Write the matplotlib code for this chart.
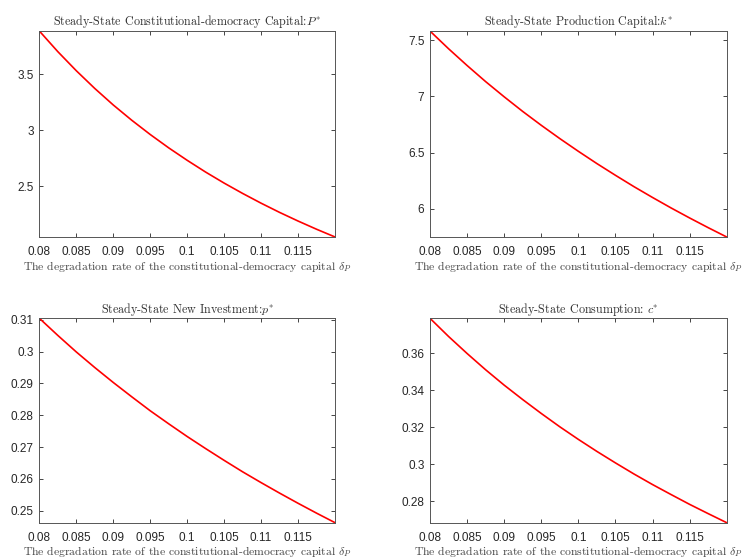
import numpy as np
import matplotlib
matplotlib.use("Agg")
import matplotlib.pyplot as plt
from matplotlib.ticker import FuncFormatter

plt.rcParams['mathtext.fontset'] = 'cm'
plt.rcParams['font.family'] = ['Liberation Sans', 'DejaVu Sans']

# degradation rate of constitutional-democracy capital
delta = [0.0800, 0.0825, 0.0850, 0.0875, 0.0900, 0.0925, 0.0950, 0.0975, 0.1000,
         0.1025, 0.1050, 0.1075, 0.1100, 0.1125, 0.1150, 0.1175, 0.1200]

P_star = [3.885, 3.701, 3.531, 3.373, 3.226, 3.090, 2.963, 2.844, 2.733,
          2.628, 2.530, 2.438, 2.351, 2.269, 2.192, 2.119, 2.050]
k_star = [7.580, 7.423, 7.274, 7.131, 6.996, 6.866, 6.743, 6.625, 6.512,
          6.403, 6.299, 6.198, 6.102, 6.009, 5.920, 5.834, 5.751]
p_star = [0.3105, 0.3051, 0.2999, 0.2950, 0.2903, 0.2858, 0.2814, 0.2773, 0.2733,
          0.2695, 0.2658, 0.2622, 0.2588, 0.2555, 0.2523, 0.2492, 0.2462]
c_star = [0.3789, 0.3691, 0.3599, 0.3511, 0.3428, 0.3350, 0.3275, 0.3203, 0.3135,
          0.3070, 0.3008, 0.2948, 0.2891, 0.2837, 0.2784, 0.2734, 0.2685]

x_ticks = [0.08, 0.085, 0.09, 0.095, 0.1, 0.105, 0.11, 0.115]
x_tick_labels = ['0.08', '0.085', '0.09', '0.095', '0.1', '0.105', '0.11', '0.115']

titles = [r'Steady-State Constitutional-democracy Capital:$P^{*}$',
          r'Steady-State Production Capital:$k^{*}$',
          r'Steady-State New Investment:$p^{*}$',
          r'Steady-State Consumption: $c^{*}$']
y_ticks = [[2.5, 3, 3.5],
           [6, 6.5, 7, 7.5],
           [0.25, 0.26, 0.27, 0.28, 0.29, 0.3, 0.31],
           [0.28, 0.3, 0.32, 0.34, 0.36]]
series = [P_star, k_star, p_star, c_star]
xlabel = r'The degradation rate of the constitutional-democracy capital $\delta_P$'

# axes boxes in figure fractions
boxes = [[0.0527, 0.5753, 0.3958, 0.3691],
         [0.5756, 0.5753, 0.3972, 0.3691],
         [0.0527, 0.0633, 0.3958, 0.3663],
         [0.5756, 0.0633, 0.3972, 0.3663]]

fig = plt.figure(figsize=(7.47, 5.58), dpi=100)
axcol = '#262626'

for i in range(4):
    ax = fig.add_axes(boxes[i])
    ax.plot(delta, series[i], color='#ff0000', linewidth=1.2)
    ax.set_xlim(delta[0], delta[-1])
    ax.set_ylim(min(series[i]), max(series[i]))
    ax.set_xticks(x_ticks)
    ax.set_xticklabels(x_tick_labels)
    ax.set_yticks(y_ticks[i])
    ax.yaxis.set_major_formatter(FuncFormatter(lambda v, pos: '%g' % v))
    ax.tick_params(direction='in', length=3, width=0.6, top=True, right=True,
                   labelsize=8.5, colors=axcol, labelcolor=axcol)
    ax.tick_params(axis='x', pad=6.5)
    ax.tick_params(axis='y', pad=4)
    for s in ax.spines.values():
        s.set_color('#555555')
        s.set_linewidth(0.7)
    ax.set_title(titles[i], fontsize=8.7, family='cmr10', color='#333333', pad=4)
    ax.set_xlabel(xlabel, fontsize=8.4, family='cmr10', color='#444444', labelpad=0.5)

fig.savefig('out.png', dpi=100)
